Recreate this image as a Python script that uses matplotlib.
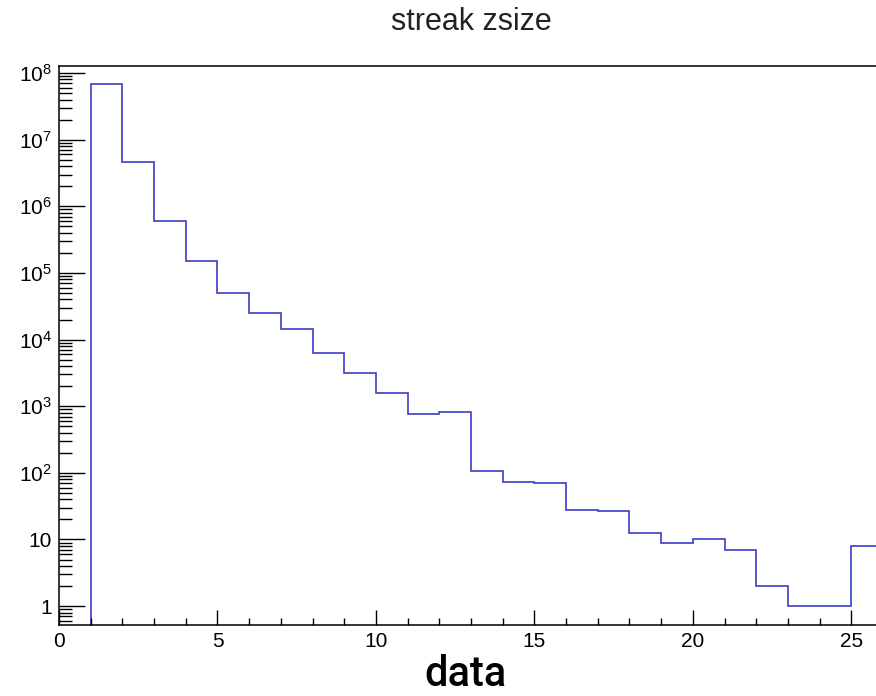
import matplotlib
matplotlib.use("Agg")
import matplotlib.pyplot as plt
import matplotlib.ticker as ticker
import numpy as np

# histogram of streak zsize, bins of width 1 starting at 1
bin_edges = np.arange(1, 27)
counts = [6.8e7, 4.7e6, 6.0e5, 1.5e5, 5.0e4, 2.5e4, 1.46e4, 6.2e3, 3.2e3, 1.6e3,
          760, 820, 107, 74, 70, 28, 26.5, 12.3, 9, 10, 7, 2, 1, 1, 8]

title = "streak zsize"
xlabel = "data"
x_major = [0, 5, 10, 15, 20, 25]
y_major = [1, 10, 1e2, 1e3, 1e4, 1e5, 1e6, 1e7, 1e8]
y_labels = ["1", "10", "$10^{2}$", "$10^{3}$", "$10^{4}$", "$10^{5}$",
            "$10^{6}$", "$10^{7}$", "$10^{8}$"]

plt.rcParams['font.family'] = ['Liberation Sans', 'DejaVu Sans']
plt.rcParams['mathtext.fontset'] = 'custom'
plt.rcParams['mathtext.rm'] = 'Liberation Sans'
plt.rcParams['mathtext.default'] = 'regular'

fig = plt.figure(figsize=(8.76, 6.96), dpi=100)
ax = fig.add_axes([0.0674, 0.102, 0.9406, 0.803])

ymin, ymax = 0.52, 1.27e8
ax.set_yscale('log')
ax.set_xlim(0, 26)
ax.set_ylim(ymin, ymax)

ax.stairs(counts, bin_edges, baseline=ymin, color='#3c3cc8', linewidth=1.2)

# ROOT-like axes
ax.spines['right'].set_visible(False)
for s in ['left', 'bottom', 'top']:
    ax.spines[s].set_linewidth(1.1)

ax.set_xticks(x_major)
ax.xaxis.set_minor_locator(ticker.MultipleLocator(1))
ax.set_yticks(y_major)
ax.set_yticklabels(y_labels)
ax.yaxis.set_minor_locator(ticker.LogLocator(base=10, subs=np.arange(2, 10), numticks=20))
ax.yaxis.set_minor_formatter(ticker.NullFormatter())

ax.tick_params(axis='x', which='major', direction='in', length=11, width=1, labelsize=15, pad=5)
ax.tick_params(axis='x', which='minor', direction='in', length=5, width=1)
ax.tick_params(axis='y', which='major', direction='in', length=19, width=1, labelsize=15, pad=5)
ax.tick_params(axis='y', which='minor', direction='in', length=9.5, width=1)

ax.set_xlabel(xlabel, family=['Roboto', 'DejaVu Sans'], fontsize=30, fontweight='medium')
ax.xaxis.set_label_coords(0.493, -0.052, transform=ax.transAxes)
ax.xaxis.label.set_va('top')
fig.text(0.538, 0.969, title, ha='center', va='center', fontsize=22, color='#222222')

fig.savefig("out.png", dpi=100)
